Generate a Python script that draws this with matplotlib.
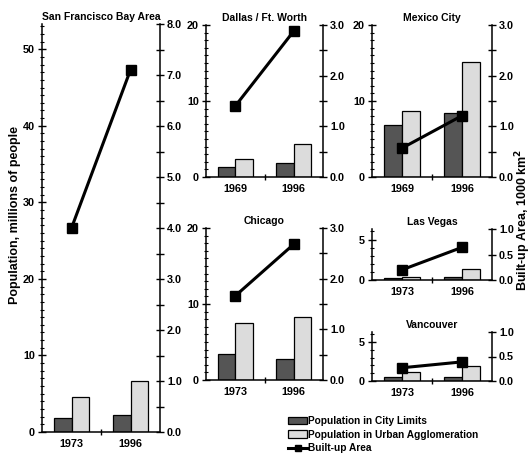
import numpy as np
import matplotlib
matplotlib.use("Agg")
import matplotlib.pyplot as plt
from matplotlib.ticker import MultipleLocator, FormatStrFormatter, FixedLocator
from matplotlib.patches import Patch
from matplotlib.lines import Line2D

plt.rcParams["font.family"] = ["Liberation Sans", "DejaVu Sans"]
plt.rcParams["font.weight"] = "bold"

# Data
cities = ["San Francisco Bay Area", "Dallas / Ft. Worth", "Mexico City",
          "Chicago", "Las Vegas", "Vancouver"]
years = [["1973", "1996"], ["1969", "1996"], ["1969", "1996"],
         ["1973", "1996"], ["1973", "1996"], ["1973", "1996"]]
city_pop = [[1.8, 2.2], [1.3, 1.8], [6.8, 8.4], [3.4, 2.8], [0.2, 0.4], [0.5, 0.5]]
urban_pop = [[4.6, 6.6], [2.4, 4.4], [8.7, 15.1], [7.5, 8.3], [0.4, 1.3], [1.2, 1.9]]
built_area = [[4.0, 7.1], [1.4, 2.88], [0.57, 1.21], [1.66, 2.68], [0.2, 0.64], [0.27, 0.39]]

# axis settings per panel
left_max = [53.3, 20, 20, 20, 6.3, 6.3]
left_major = [10, 10, 10, 10, 5, 5]
right_max = [8.0, 3.0, 3.0, 3.0, 1.0, 1.0]
right_major = [1.0, 1.0, 1.0, 1.0, 0.5, 0.5]
right_minor = [0.5, 0.5, 0.5, 0.5, None, None]

# panel boxes in pixels: left, right, top, bottom
boxes = [(42, 160, 24, 432), (206, 323, 25, 177), (372, 492, 25, 177),
         (206, 323, 228, 380), (372, 492, 229, 280), (372, 492, 332, 381)]

W, H = 528, 458
fig = plt.figure(figsize=(W / 100, H / 100), dpi=100)

dark = "#555555"
light = "#dcdcdc"
fs = 7.5
tfs = 7.8

for i, city in enumerate(cities):
    l, r, t, b = boxes[i]
    ax = fig.add_axes([l / W, 1 - b / H, (r - l) / W, (b - t) / H])
    x = np.array([0.5, 1.5])
    ax.bar(x - 0.15, city_pop[i], width=0.3, color=dark, edgecolor="black", linewidth=0.9, zorder=2)
    ax.bar(x + 0.15, urban_pop[i], width=0.3, color=light, edgecolor="black", linewidth=0.9, zorder=2)
    ax.set_xlim(0, 2)
    ax.set_ylim(0, left_max[i])
    ax.yaxis.set_major_locator(MultipleLocator(left_major[i]))
    ax.yaxis.set_minor_locator(MultipleLocator(1))
    ax.set_xticks(x)
    ax.set_xticklabels(years[i], fontsize=tfs, fontweight="bold")
    ax.xaxis.set_minor_locator(FixedLocator([1]))
    ax.tick_params(axis="x", which="major", length=0, pad=5)
    ax.tick_params(axis="x", which="minor", length=5, direction="inout", width=1)
    ax.tick_params(axis="y", which="major", length=6, direction="inout", width=1, labelsize=tfs, pad=2)
    ax.tick_params(axis="y", which="minor", length=3, direction="inout", width=0.8)
    for lab in ax.get_yticklabels():
        lab.set_fontweight("bold")
    ax.spines["top"].set_visible(False)
    ax.spines["right"].set_visible(False)
    for s in ["left", "bottom"]:
        ax.spines[s].set_linewidth(1.1)
    ax.set_title(city, fontsize=fs, fontweight="bold", pad=3)

    ax2 = ax.twinx()
    ax2.plot(x, built_area[i], color="black", linewidth=2.2, marker="s", markersize=6.5, zorder=3)
    ax2.set_ylim(0, right_max[i])
    ax2.yaxis.set_major_locator(MultipleLocator(right_major[i]))
    if right_minor[i]:
        ax2.yaxis.set_minor_locator(MultipleLocator(right_minor[i]))
    ax2.yaxis.set_major_formatter(FormatStrFormatter("%.1f"))
    ax2.tick_params(axis="y", which="major", length=6, direction="inout", width=1, labelsize=tfs, pad=2)
    ax2.tick_params(axis="y", which="minor", length=6, direction="inout", width=1)
    for lab in ax2.get_yticklabels():
        lab.set_fontweight("bold")
    ax2.spines["top"].set_visible(False)
    ax2.spines["left"].set_visible(False)
    ax2.spines["bottom"].set_visible(False)
    ax2.spines["right"].set_linewidth(1.1)

fig.text(15 / W, 1 - 215 / H, "Population, millions of people", rotation=90,
         ha="center", va="center", fontsize=9, fontweight="bold")
fig.text(523 / W, 1 - 220 / H, "Built-up Area, 1000 km$^\\mathbf{2}$", rotation=90,
         ha="center", va="center", fontsize=9, fontweight="bold")

handles = [Patch(facecolor=dark, edgecolor="black", linewidth=0.9),
           Patch(facecolor=light, edgecolor="black", linewidth=0.9),
           Line2D([], [], color="black", linewidth=2.2, marker="s", markersize=5)]
labels = ["Population in City Limits", "Population in Urban Agglomeration", "Built-up Area"]
fig.legend(handles, labels, loc="upper left", bbox_to_anchor=(288 / W, 1 - 416 / H),
           frameon=False, fontsize=7.3, handlelength=1.9, handleheight=0.7,
           handletextpad=0.1, labelspacing=0.35, borderaxespad=0, borderpad=0)

fig.savefig("out.png", dpi=100)
